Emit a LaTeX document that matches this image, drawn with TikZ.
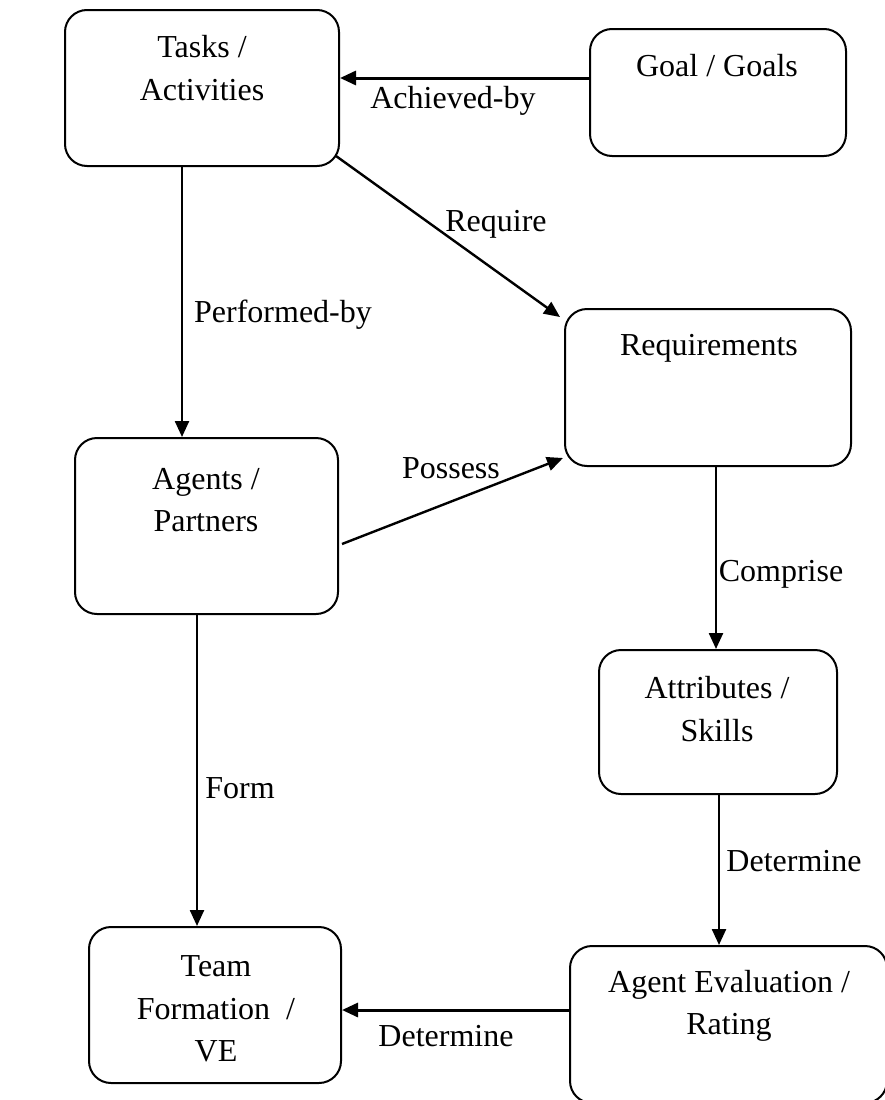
\documentclass[tikz,border=0pt]{standalone}
\usepackage{fontspec}
\setmainfont{Liberation Serif}
\usetikzlibrary{arrows.meta}
\begin{document}
\begin{tikzpicture}[x=1pt,y=-1pt,
  box/.style={draw,line width=2pt,rounded corners=22pt,inner sep=0pt},
  txt/.style={align=center,font=\fontsize{32}{42.5}\selectfont,inner sep=0pt},
  lbl/.style={font=\fontsize{32}{40}\selectfont,inner sep=0pt},
  arr/.style={line width=2.4pt,-{Triangle[length=16pt,width=14pt]}}]
\useasboundingbox (0,0) rectangle (884,1100);

% boxes
\node[box,minimum width=274pt,minimum height=156pt] (tasks) at (202,88) {};
\node[box,minimum width=256pt,minimum height=127pt] (goal) at (718,92.5) {};
\node[box,minimum width=286pt,minimum height=157pt] (req) at (708,387.5) {};
\node[box,minimum width=263pt,minimum height=176pt] (agents) at (206.5,526) {};
\node[box,minimum width=238pt,minimum height=144pt] (attr) at (718,722) {};
\node[box,minimum width=252pt,minimum height=156pt] (team) at (215,1005) {};
\node[box,minimum width=317pt,minimum height=157pt] (eval) at (728.5,1024.5) {};

% box texts
\node[txt] (tTasks) at (202,68) {Tasks /\\Activities};
\node[txt] (tGoal) at (717,66) {Goal / Goals};
\node[txt] (tReq) at (709,348) {Requirements};
\node[txt] (tAgents) at (206,500) {Agents /\\Partners};
\node[txt] (tAttr) at (717,709) {Attributes /\\Skills};
\node[txt] (tTeam) at (216,1009) {Team\\Formation~~/\\VE};
\node[txt] (tEval) at (729,1006) {Agent Evaluation /\\Rating};

% connectors
\draw[arr,line width=3pt] ([yshift=14.5pt]goal.west) -- ([yshift=14.5pt]goal.west -| tasks.east);
\draw[arr] ([xshift=-4pt,yshift=11pt]tasks.south east) -- ([xshift=-4pt,yshift=-9pt]req.north west);
\draw[arr] ([xshift=-20pt]tasks.south) -- ([xshift=-20pt]tasks.south |- agents.north);
\draw[arr] ([xshift=3pt,yshift=-18pt]agents.east) -- ([xshift=-1pt,yshift=9pt]req.south west);
\draw[arr] ([xshift=8pt]req.south) -- ([xshift=8pt]req.south |- attr.north);
\draw[arr] ([xshift=-9.5pt]agents.south) -- ([xshift=-9.5pt]agents.south |- team.north);
\draw[arr] ([xshift=1pt]attr.south) -- ([xshift=1pt]attr.south |- eval.north);
\draw[arr,line width=3pt] ([yshift=14.5pt]eval.west) -- ([yshift=14.5pt]eval.west -| team.east);

% connector labels
\node[lbl] (lAch) at (453,101) {Achieved-by};
\node[lbl] (lReq) at (496,224) {Require};
\node[lbl] (lPerf) at (283,315) {Performed-by};
\node[lbl] (lPos) at (451,468) {Possess};
\node[lbl] (lComp) at (781,574) {Comprise};
\node[lbl] (lForm) at (240,788) {Form};
\node[lbl] (lDet1) at (794,861) {Determine};
\node[lbl] (lDet2) at (446,1036) {Determine};
\end{tikzpicture}
\end{document}
